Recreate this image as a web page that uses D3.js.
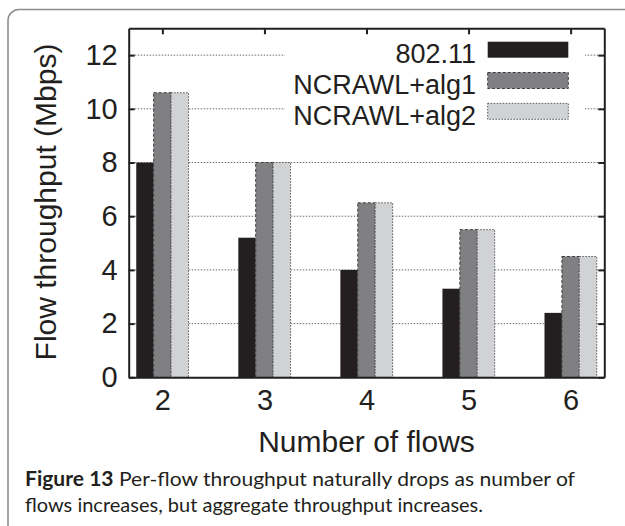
<!DOCTYPE html>
<html lang="en">
<head>
    <meta charset="UTF-8"/>
    <title>Flow throughput</title>
    <script src="https://d3js.org/d3.v7.min.js" charset="utf-8"></script>
    <style type="text/css">
        body { margin: 0; background: #fff; }
        text { font-family: "Liberation Sans", Arial, sans-serif; fill: #231f20; }
        .caption text { font-family: Lato, "Open Sans", sans-serif; }
        .axis path, .axis line { stroke: #231f20; stroke-width: 2px; }
        .grid line { stroke: #6d6e71; stroke-width: 1px; stroke-dasharray: 1.5,1.5; }
    </style>
</head>
<body>
<svg width="625" height="526"></svg>
<script type="text/javascript">
    // data
    var flows = ["2", "3", "4", "5", "6"];
    var seriesNames = ["802.11", "NCRAWL+alg1", "NCRAWL+alg2"];
    var wifi = [8, 5.2, 4, 3.3, 2.4];
    var alg1 = [10.6, 8, 6.5, 5.5, 4.5];
    var alg2 = [10.6, 8, 6.5, 5.5, 4.5];
    var yTicks = [0, 2, 4, 6, 8, 10, 12];

    var fills = ["#231f20", "#808083", "#d1d2d4"];
    var strokes = ["none", "#3c3c3e", "#58585a"];
    var dashes = [null, "3,2", "1.5,1.5"];

    var svg = d3.select("svg");
    var pLeft = 128.7, pRight = 604.3, pTop = 28.3, pBottom = 377.3;

    // card frame
    svg.append("rect")
        .attr("x", 8).attr("y", 9.5)
        .attr("width", 700).attr("height", 600)
        .attr("rx", 11)
        .attr("fill", "none")
        .attr("stroke", "#8c8c8c")
        .attr("stroke-width", 1.6);

    var x = d3.scalePoint().domain(flows).range([pLeft, pRight]).padding(0.33);
    var xIn = d3.scaleBand().domain(seriesNames)
        .range([-0.256 * x.step(), 0.256 * x.step()]);
    var y = d3.scaleLinear().domain([0, 13]).range([pBottom, pTop]);

    // grid
    svg.append("g").attr("class", "grid")
        .selectAll("line")
        .data(yTicks.filter(function(d) { return d > 0; }))
        .enter().append("line")
        .attr("x1", pLeft).attr("x2", pRight)
        .attr("y1", function(d) { return y(d); })
        .attr("y2", function(d) { return y(d); });

    // legend background hides grid
    svg.append("rect")
        .attr("x", 285).attr("y", 33)
        .attr("width", 300).attr("height", 96)
        .attr("fill", "#fff");

    var rows = flows.map(function(f, i) {
        return { flow: f, values: [wifi[i], alg1[i], alg2[i]] };
    });

    var group = svg.selectAll(".grp")
        .data(rows)
        .enter().append("g")
        .attr("class", "grp")
        .attr("transform", function(d) { return "translate(" + x(d.flow) + ",0)"; });

    group.selectAll("rect")
        .data(function(d) {
            return d.values.map(function(v, k) { return { name: seriesNames[k], k: k, v: v }; });
        })
        .enter().append("rect")
        .attr("x", function(d) { return xIn(d.name); })
        .attr("width", xIn.bandwidth())
        .attr("y", function(d) { return y(d.v); })
        .attr("height", function(d) { return y(0) - y(d.v); })
        .attr("fill", function(d) { return fills[d.k]; })
        .attr("stroke", function(d) { return strokes[d.k]; })
        .attr("stroke-width", 1)
        .attr("stroke-dasharray", function(d) { return dashes[d.k]; });

    // axes
    svg.append("g").attr("class", "axis")
        .attr("transform", "translate(" + pLeft + ",0)")
        .call(d3.axisLeft(y).tickValues(yTicks).tickSize(-6).tickSizeOuter(0).tickPadding(11))
        .selectAll("text").style("font-size", "29px");

    svg.append("g").attr("class", "axis")
        .attr("transform", "translate(" + pRight + ",0)")
        .call(d3.axisRight(y).tickValues(yTicks).tickSize(-6).tickSizeOuter(0).tickFormat(""));

    svg.append("g").attr("class", "axis")
        .attr("transform", "translate(0," + pTop + ")")
        .call(d3.axisTop(x).tickSize(-6).tickSizeOuter(0).tickFormat(""));

    svg.append("g").attr("class", "axis")
        .attr("transform", "translate(0," + pBottom + ")")
        .call(d3.axisBottom(x).tickSize(0).tickSizeOuter(0).tickPadding(12))
        .selectAll("text").style("font-size", "29px");

    svg.selectAll(".axis text").attr("fill", "#231f20").style("font-family", "Liberation Sans, Arial, sans-serif");
    svg.selectAll(".axis line, .axis path").attr("stroke", "#231f20");

    // legend
    var legend = svg.append("g").selectAll("g")
        .data(seriesNames)
        .enter().append("g")
        .attr("transform", function(d, i) { return "translate(0," + (41.7 + i * 30.8) + ")"; });

    legend.append("rect")
        .attr("x", 487.7).attr("width", 80.6).attr("height", 16)
        .attr("fill", function(d, i) { return fills[i]; })
        .attr("stroke", function(d, i) { return strokes[i]; })
        .attr("stroke-dasharray", function(d, i) { return dashes[i]; });

    legend.append("text")
        .attr("x", 476).attr("y", 21.5)
        .attr("text-anchor", "end")
        .style("font-size", "27px")
        .text(function(d) { return d; });

    // axis titles
    svg.append("text")
        .attr("transform", "translate(56,202) rotate(-90)")
        .attr("text-anchor", "middle")
        .style("font-size", "30px")
        .text("Flow throughput (Mbps)");

    svg.append("text")
        .attr("x", (pLeft + pRight) / 2).attr("y", 452)
        .attr("text-anchor", "middle")
        .style("font-size", "30px")
        .text("Number of flows");

    // caption
    var cap = svg.append("g").attr("class", "caption");
    var l1 = cap.append("text").attr("x", 25).attr("y", 486)
        .attr("textLength", 550).attr("lengthAdjust", "spacingAndGlyphs")
        .style("font-size", "20px");
    l1.append("tspan").style("font-weight", "bold").text("Figure 13");
    l1.append("tspan").text(" Per-flow throughput naturally drops as number of");
    cap.append("text").attr("x", 25).attr("y", 511.7)
        .attr("textLength", 458).attr("lengthAdjust", "spacingAndGlyphs")
        .style("font-size", "20px")
        .text("flows increases, but aggregate throughput increases.");
</script>
</body>
</html>
